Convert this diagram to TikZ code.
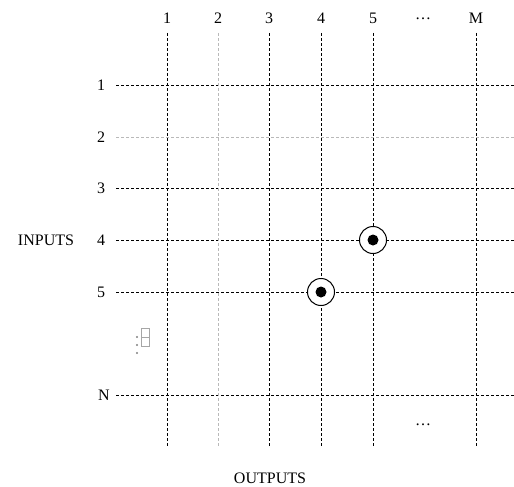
\documentclass[tikz,border=0pt]{standalone}
\usepackage{fontspec}
\setmainfont{Liberation Serif}
\begin{document}
\begin{tikzpicture}[x=1pt,y=-1pt,
  lbl/.style={font=\fontsize{16}{18}\selectfont, inner sep=0pt},
  grid/.style={dashed, dash pattern=on 3pt off 2pt, line width=1pt},
  gridl/.style={grid, gray!55},
  ring/.style={circle, draw, line width=1pt, minimum size=27pt, inner sep=0pt, fill=white},
  dotc/.style={circle, fill=black, minimum size=11pt, inner sep=0pt},
  vdot/.style={circle, fill=gray, minimum size=2.2pt, inner sep=0pt}]
\useasboundingbox (0,0) rectangle (514,487);
% column coordinates
\foreach \n/\x in {c1/167,c2/218,c3/269,c4/321,c5/373,cM/476}{
  \coordinate (\n t) at (\x,33);
  \coordinate (\n b) at (\x,446);
}
\foreach \n/\y in {r1/85,r2/137,r3/188,r4/240,r5/292,rN/395}{
  \coordinate (\n l) at (116,\y);
  \coordinate (\n r) at (514,\y);
}
% lines
\draw[grid] (r1l) -- (r1r);
\draw[gridl] (r2l) -- (r2r);
\draw[grid] (r3l) -- (r3r);
\draw[grid] (r4l) -- (r4r);
\draw[grid] (r5l) -- (r5r);
\draw[grid] (rNl) -- (rNr);
\draw[grid] (c1t) -- (c1b);
\draw[gridl] (c2t) -- (c2b);
\draw[grid] (c3t) -- (c3b);
\draw[grid] (c4t) -- (c4b);
\draw[grid] (c5t) -- (c5b);
\draw[grid] (cMt) -- (cMb);
% column labels
\node[lbl] (l1) at (167,18) {1};
\node[lbl] (l2) at (218,18) {2};
\node[lbl] (l3) at (269,18) {3};
\node[lbl] (l4) at (321,18) {4};
\node[lbl] (l5) at (373,18) {5};
\node[lbl] (ldots) at (423,19) {\dots};
\node[lbl] (lM) at (476,18) {M};
% row labels
\node[lbl] (k1) at (101,85) {1};
\node[lbl] (k2) at (101,137) {2};
\node[lbl] (k3) at (101,188) {3};
\node[lbl] (k4) at (101,240) {4};
\node[lbl] (k5) at (101,292) {5};
\node[lbl] (kN) at (104,395) {N};
\node[lbl] (inputs) at (46,240) {INPUTS};
\node[lbl] (outputs) at (270,478) {OUTPUTS};
\node[lbl] (bdots) at (423,425) {\dots};
% left vertical dots and box
\node[vdot] (v1) at (137,337) {};
\node[vdot] (v2) at (137,345) {};
\node[vdot] (v3) at (137,353) {};
\draw[gray!70, line width=0.9pt] (141,328) rectangle (149.5,346.5);
\draw[gray!70, line width=0.9pt] (141,337) -- (149.5,337);
% crosspoints
\node[ring] (x45) at (373,240) {};
\node[dotc] (d45) at (x45.center) {};
\node[ring] (x54) at (321,292) {};
\node[dotc] (d54) at (x54.center) {};
\end{tikzpicture}
\end{document}
